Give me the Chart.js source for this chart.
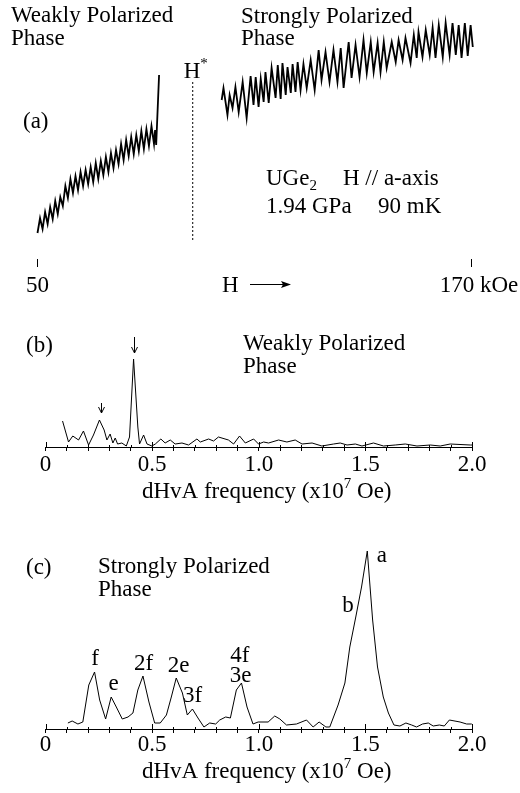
<!DOCTYPE html>
<html>
<head>
<meta charset="utf-8">
<script src="https://cdn.jsdelivr.net/npm/chart.js@4.4.1/dist/chart.umd.min.js"></script>
<style>
  html, body { margin: 0; padding: 0; background: #fff; }
  #wrap { position: relative; width: 520px; height: 793px; }
  canvas { position: absolute; left: 0; }
</style>
</head>
<body>
<div id="wrap">
  <canvas id="ca" width="520" height="300" style="top:0"></canvas>
  <canvas id="cb" width="520" height="220" style="top:300px"></canvas>
  <canvas id="cc" width="520" height="273" style="top:520px"></canvas>
</div>
<script>
// (a) raw dHvA signal vs field (kOe), arbitrary units
const weakField = [50.0,50.7,51.4,52.1,52.8,53.5,54.2,54.9,55.6,56.3,57.0,57.7,58.4,59.1,59.8,60.5,61.2,61.9,62.6,63.3,64.0,64.7,65.4,66.1,66.8,67.5,68.2,68.9,69.6,70.3,71.0,71.7,72.4,73.1,73.8,74.5,75.2,75.9,76.6,77.3,78.0,78.7,79.4,80.1,80.8,81.5,82.2,82.5,82.8,83.6];
const weakSignal = [2.9,4.4,3.3,5.0,3.8,5.5,4.3,6.1,4.8,6.5,5.6,7.6,6.4,8.3,6.9,8.6,7.2,9.0,7.6,9.2,7.8,9.5,8.0,9.9,8.3,10.1,8.7,10.5,9.0,10.9,9.4,11.2,9.8,11.8,10.2,12.2,10.6,12.5,10.8,12.7,11.1,13.1,11.3,13.3,11.6,13.6,11.8,13.2,11.7,18.7];
const strongField = [100.9,101.4,102.5,103.1,103.9,104.7,105.6,106.7,107.8,108.9,109.7,110.3,111.1,111.7,112.5,113.0,113.9,114.7,115.8,116.4,117.2,117.7,118.6,119.1,120.0,120.5,121.3,121.9,122.7,123.5,124.4,125.5,126.6,127.7,128.5,129.6,130.7,131.8,132.9,133.8,134.6,136.0,136.8,137.9,139.0,140.1,141.0,142.1,142.9,144.0,144.8,145.7,146.5,147.9,149.0,149.8,150.9,151.7,153.1,154.0,154.8,155.3,156.4,157.3,158.4,159.2,160.0,160.9,162.0,162.8,163.9,164.7,165.6,166.4,167.2,168.1,168.9,169.7,170.3];
const strongSignal = [16.2,17.4,14.7,16.7,15.4,17.5,15.0,18.0,14.4,18.6,15.7,18.5,15.5,18.3,16.0,19.0,15.9,19.4,16.4,19.7,16.3,19.9,16.7,19.5,16.9,19.8,17.0,20.0,17.2,19.8,17.4,20.2,17.2,21.2,18.2,21.0,18.0,21.2,18.0,21.4,17.4,22.0,18.4,21.7,18.5,22.2,18.9,22.0,19.0,21.9,19.0,22.0,19.4,22.0,20.0,22.2,20.2,22.4,19.9,22.7,20.4,23.0,20.5,23.2,20.7,23.4,20.4,23.7,20.5,23.9,20.7,23.9,20.7,23.7,20.4,23.9,20.6,23.7,21.5];
const hStar = 92.9;
const hStarSpan = [18.0, 2.2];
const fieldTicks = [50, 170];

// (b) FFT, weakly polarized phase (freq in 1e7 Oe, amplitude arb.)
const weakFreq = [0.080,0.108,0.128,0.155,0.178,0.202,0.225,0.253,0.275,0.288,0.303,0.316,0.327,0.338,0.358,0.379,0.394,0.413,0.433,0.441,0.460,0.476,0.499,0.515,0.541,0.561,0.585,0.608,0.640,0.671,0.710,0.726,0.765,0.788,0.811,0.858,0.882,0.910,0.937,0.976,0.999,1.023,1.046,1.093,1.132,1.171,1.203,1.250,1.296,1.351,1.382,1.414,1.453,1.484,1.538,1.585,1.640,1.687,1.742,1.804,1.851,1.898,1.992,2.000];
const weakAmp = [2.6,0.5,1.1,0.7,1.6,0.2,1.2,2.7,1.7,0.7,1.3,0.4,0.9,0.3,0.4,0.1,1.0,8.8,2.0,0.3,1.2,0.3,0.1,0.3,0.8,0.4,0.7,0.3,0.4,0.2,0.8,0.5,0.8,0.6,1.0,0.7,0.3,1.1,0.4,0.8,0.3,0.5,0.4,0.7,0.5,0.7,0.3,0.4,0.1,0.3,0.4,0.2,0.3,0.1,0.4,0.1,0.2,0.3,0.1,0.2,0.1,0.3,0.2,0.2];
const weakArrows = [[0.415, 11.0, 9.4], [0.260, 4.4, 3.4]];

// (c) FFT, strongly polarized phase
const strongFreq = [0.105,0.125,0.152,0.175,0.203,0.230,0.254,0.282,0.308,0.332,0.360,0.387,0.410,0.433,0.457,0.485,0.512,0.538,0.567,0.590,0.613,0.642,0.665,0.689,0.715,0.743,0.770,0.798,0.817,0.845,0.867,0.895,0.919,0.945,0.973,0.997,1.044,1.075,1.099,1.130,1.177,1.224,1.255,1.283,1.315,1.333,1.372,1.404,1.427,1.455,1.482,1.509,1.534,1.557,1.584,1.608,1.634,1.662,1.690,1.717,1.740,1.768,1.795,1.818,1.847,1.870,1.894,1.944,1.975,1.999];
const strongAmp = [0.6,0.8,0.5,0.7,4.4,5.7,2.9,1.0,3.2,2.2,1.0,1.2,1.6,3.9,5.3,2.7,0.6,0.6,1.4,3.2,5.1,3.6,1.4,2.0,1.1,0.2,0.6,0.5,0.9,1.2,1.1,3.9,4.6,2.2,0.5,0.7,0.7,1.3,1.0,0.4,0.5,0.9,0.2,0.7,0.2,0.2,2.4,4.6,8.2,11.2,14.2,17.8,10.9,6.2,3.2,1.6,0.4,0.3,0.6,0.4,0.2,0.5,0.6,0.3,0.4,0.3,0.9,0.7,0.5,0.5];
const peakNames = ['f', 'e', '2f', '2e', '3f', '4f', '3e', 'b', 'a'];
const peakFreq = [0.233, 0.319, 0.460, 0.624, 0.690, 0.911, 0.915, 1.418, 1.577];
const peakAmp = [6.4, 3.9, 5.9, 5.7, 2.7, 6.7, 4.7, 11.7, 16.7];

const SERIF = '"Liberation Serif", "Times New Roman", serif';
const FS = 23;
const SMALL = 15;

function pairs(xs, ys) { return xs.map((x, i) => ({ x: x, y: ys[i] })); }

// draw text runs (plain, sub, sup) starting at x or centred on x
function say(ctx, x, y, parts, align) {
    const list = parts.map(p => typeof p === 'string' ? [p, FS, 0] : p);
    let w = 0;
    list.forEach(p => { ctx.font = p[1] + 'px ' + SERIF; w += ctx.measureText(p[0]).width; });
    let cx = align === 'center' ? x - w / 2 : x;
    ctx.textAlign = 'left';
    ctx.textBaseline = 'alphabetic';
    ctx.fillStyle = '#000';
    list.forEach(p => {
        ctx.font = p[1] + 'px ' + SERIF;
        ctx.fillText(p[0], cx, y + p[2]);
        cx += ctx.measureText(p[0]).width;
    });
}

function downArrow(ctx, x, y1, y2) {
    ctx.beginPath();
    ctx.moveTo(x, y1); ctx.lineTo(x, y2);
    ctx.moveTo(x - 3, y2 - 6); ctx.lineTo(x, y2); ctx.lineTo(x + 3, y2 - 6);
    ctx.stroke();
}

// ticks that poke above the axis line as well as below
function crossTicks(chart) {
    const ctx = chart.ctx, xs = chart.scales.x, base = chart.chartArea.bottom;
    ctx.save();
    ctx.strokeStyle = '#000';
    ctx.lineWidth = 1;
    xs.ticks.forEach(t => {
        const k = Math.round(t.value * 10);
        const px = Math.round(xs.getPixelForValue(t.value)) + 0.5;
        ctx.beginPath();
        ctx.moveTo(px, base - (k % 5 === 0 ? 5 : 2));
        ctx.lineTo(px, base);
        ctx.stroke();
    });
    ctx.restore();
}

function freqTitle(ctx, chart, y) {
    const cx = (chart.chartArea.left + chart.chartArea.right) / 2 + 8;
    say(ctx, cx, y, ['dHvA frequency (x10', ['7', SMALL, -10], ' Oe)'], 'center');
}

function freqOptions(yMax, padTop, axisH, tickPad) {
    return {
        responsive: false,
        animation: false,
        layout: { padding: { left: 45.5, right: 48, top: padTop, bottom: 0 } },
        plugins: { legend: { display: false }, tooltip: { enabled: false } },
        scales: {
            x: {
                type: 'linear', min: 0, max: 2,
                afterFit: s => { s.height = axisH; },
                grid: { drawOnChartArea: false, drawTicks: true, tickLength: 4, color: '#000', lineWidth: 1 },
                border: { display: true, color: '#000', width: 1 },
                ticks: {
                    stepSize: 0.1, autoSkip: false, maxRotation: 0, padding: tickPad,
                    color: '#000', font: { family: SERIF, size: FS },
                    callback: v => {
                        const k = Math.round(v * 10);
                        if (k % 5 !== 0) return '';
                        return k === 0 ? '0' : (k / 10).toFixed(1);
                    }
                }
            },
            y: { display: false, min: 0, max: yMax }
        }
    };
}

const lineStyle = { borderColor: '#000', borderWidth: 1, pointRadius: 0, tension: 0, fill: false, clip: false };

// Panel (a)
new Chart(document.getElementById('ca'), {
    type: 'line',
    data: {
        datasets: [
            { ...lineStyle, borderWidth: 1.8, data: pairs(weakField, weakSignal) },
            { ...lineStyle, borderWidth: 1.8, data: pairs(strongField, strongSignal) },
            { ...lineStyle, borderDash: [2, 2], data: pairs([hStar, hStar], hStarSpan) }
        ]
    },
    options: {
        responsive: false,
        animation: false,
        layout: { padding: { left: 37.5, right: 48.3, top: 0, bottom: 0 } },
        plugins: { legend: { display: false }, tooltip: { enabled: false } },
        scales: {
            x: {
                type: 'linear', min: 50, max: 170,
                afterFit: s => { s.height = 41; },
                afterBuildTicks: s => { s.ticks = fieldTicks.map(v => ({ value: v })); },
                grid: { drawOnChartArea: false, tickLength: 8, color: '#000', lineWidth: 1 },
                border: { display: false },
                ticks: { display: false }
            },
            y: { display: false, min: 0.3, max: 26.2 }
        }
    },
    plugins: [{
        id: 'notesA',
        afterDraw(chart) {
            const ctx = chart.ctx, xs = chart.scales.x;
            ctx.save();
            say(ctx, 11, 22, ['Weakly Polarized']);
            say(ctx, 11, 45, ['Phase']);
            say(ctx, 241, 23, ['Strongly Polarized']);
            say(ctx, 241, 45, ['Phase']);
            say(ctx, xs.getPixelForValue(hStar) - 9, 78, ['H', ['*', SMALL, -10]]);
            say(ctx, 23, 128, ['(a)']);
            say(ctx, 266, 185, ['UGe', ['2', SMALL, 5]]);
            say(ctx, 343, 185, ['H // a-axis']);
            say(ctx, 266, 213, ['1.94 GPa']);
            say(ctx, 378, 213, ['90 mK']);
            say(ctx, xs.getPixelForValue(fieldTicks[0]), 292, ['50'], 'center');
            say(ctx, xs.getPixelForValue(fieldTicks[1]) - 32, 292, ['170 kOe']);
            say(ctx, 222, 292, ['H']);
            ctx.strokeStyle = '#000';
            ctx.fillStyle = '#000';
            ctx.lineWidth = 1.2;
            ctx.beginPath(); ctx.moveTo(250, 284.5); ctx.lineTo(284, 284.5); ctx.stroke();
            ctx.beginPath(); ctx.moveTo(291, 284.5); ctx.lineTo(281, 281); ctx.lineTo(283, 284.5); ctx.lineTo(281, 288); ctx.closePath(); ctx.fill();
            ctx.restore();
        }
    }]
});

// Panel (b)
new Chart(document.getElementById('cb'), {
    type: 'line',
    data: { datasets: [{ ...lineStyle, data: pairs(weakFreq, weakAmp) }] },
    options: freqOptions(12.7, 20, 73, 0),
    plugins: [{
        id: 'notesB',
        afterDraw(chart) {
            const ctx = chart.ctx, xs = chart.scales.x, ys = chart.scales.y;
            crossTicks(chart);
            ctx.save();
            say(ctx, 26, 52, ['(b)']);
            say(ctx, 243, 50, ['Weakly Polarized']);
            say(ctx, 243, 73, ['Phase']);
            ctx.strokeStyle = '#000';
            ctx.lineWidth = 1;
            weakArrows.forEach(a => {
                downArrow(ctx, Math.round(xs.getPixelForValue(a[0])) + 0.5, ys.getPixelForValue(a[1]), ys.getPixelForValue(a[2]));
            });
            freqTitle(ctx, chart, 198);
            ctx.restore();
        }
    }]
});

// Panel (c)
new Chart(document.getElementById('cc'), {
    type: 'line',
    data: { datasets: [{ ...lineStyle, data: pairs(strongFreq, strongAmp) }] },
    options: freqOptions(19.4, 15, 64, -2),
    plugins: [{
        id: 'notesC',
        afterDraw(chart) {
            const ctx = chart.ctx, xs = chart.scales.x, ys = chart.scales.y;
            crossTicks(chart);
            ctx.save();
            say(ctx, 26, 54, ['(c)']);
            say(ctx, 98, 53, ['Strongly Polarized']);
            say(ctx, 98, 76, ['Phase']);
            peakNames.forEach((n, i) => {
                say(ctx, xs.getPixelForValue(peakFreq[i]), ys.getPixelForValue(peakAmp[i]), [n], 'center');
            });
            freqTitle(ctx, chart, 258);
            ctx.restore();
        }
    }]
});
</script>
</body>
</html>
